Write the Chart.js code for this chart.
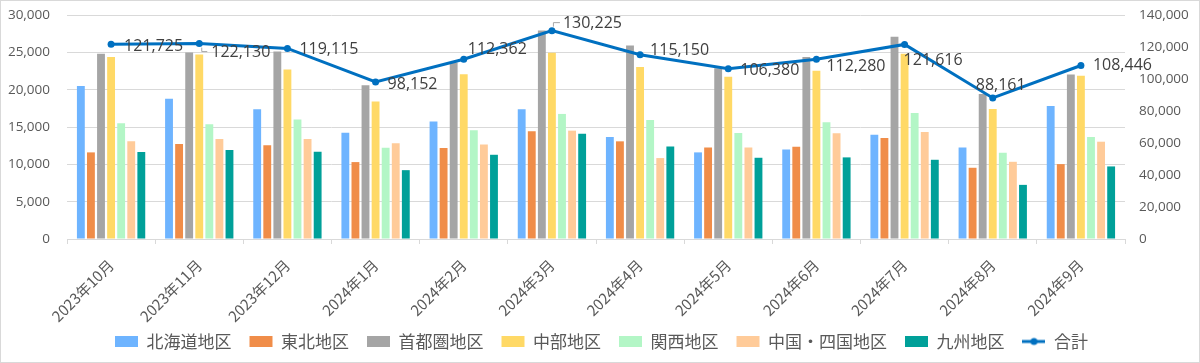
<!DOCTYPE html>
<html lang="ja">
<head>
<meta charset="utf-8">
<title>地区別 月次推移</title>
<script src="https://cdn.jsdelivr.net/npm/chart.js@4.4.1/dist/chart.umd.min.js"></script>
<style>
  html, body { margin: 0; padding: 0; background: #fff; }
  #wrap { width: 1200px; height: 363px; box-sizing: border-box; border: 1px solid #d9d9d9; position: relative; }
</style>
</head>
<body>
<div id="wrap"><canvas id="chart"></canvas></div>
<script>
// categories
const months = ['2023年10月', '2023年11月', '2023年12月', '2024年1月', '2024年2月', '2024年3月',
  '2024年4月', '2024年5月', '2024年6月', '2024年7月', '2024年8月', '2024年9月'];

// regional values (left axis)
const hokkaido = [20500, 18800, 17370, 14240, 15720, 17370, 13660, 11600, 12000, 13970, 12270, 17820];
const tohoku   = [11600, 12720, 12540, 10300, 12180, 14420, 13080, 12270, 12360, 13520, 9540, 10030];
const shutoken = [24810, 24990, 25120, 20600, 23640, 27940, 25930, 22880, 24360, 27090, 19430, 22030];
const chubu    = [24360, 24720, 22700, 18400, 22080, 24940, 23020, 21720, 22520, 24810, 17420, 21850];
const kansai   = [15490, 15360, 15990, 12230, 14550, 16750, 15940, 14200, 15630, 16880, 11550, 13660];
const chushikoku = [13080, 13390, 13390, 12810, 12670, 14510, 10840, 12270, 14150, 14330, 10340, 13030];
const kyushu   = [11640, 11910, 11690, 9220, 11280, 14110, 12400, 10880, 10930, 10610, 7250, 9720];

// total (right axis)
const total = [121725, 122130, 119115, 98152, 112362, 130225, 115150, 106380, 112280, 121616, 88161, 108446];

// tick settings
const leftMax = 30000, leftStep = 5000;
const rightMax = 140000, rightStep = 20000;

const textColor = '#595959';
const gridColor = '#d9d9d9';
const numFont = "'Open Sans', 'Noto Sans', sans-serif";
const jpFont = "'Noto Sans CJK JP', 'Noto Sans', sans-serif";

function fmt(v) { return Number(v).toLocaleString('en-US'); }

// small line+dot swatch for the 合計 legend entry
function lineSwatch() {
  const c = document.createElement('canvas');
  c.width = 23; c.height = 10;
  const g = c.getContext('2d');
  g.strokeStyle = '#0070c0';
  g.lineWidth = 3;
  g.beginPath(); g.moveTo(0, 5); g.lineTo(23, 5); g.stroke();
  g.fillStyle = '#0070c0';
  g.beginPath(); g.arc(11.5, 5, 3.5, 0, Math.PI * 2); g.fill();
  return c;
}
const swatch = lineSwatch();

// data labels for the total line, nudged per point like the original
const labelOffsets = [[13, 2], [12, 9], [12, 1], [12, 2], [4, -10], [11, -7],
  [10, -4], [12, 2], [10, 7], [-1, 16], [-17, -13], [12, 0]];

const totalLabels = {
  id: 'totalLabels',
  afterDatasetsDraw(chart) {
    const idx = chart.data.datasets.findIndex(d => d.type === 'line');
    const meta = chart.getDatasetMeta(idx);
    const ctx = chart.ctx;
    ctx.save();
    // leader lines for the two labels pushed away from their points
    ctx.strokeStyle = '#a6a6a6';
    ctx.lineWidth = 1;
    const p1 = meta.data[1], p5 = meta.data[5];
    ctx.beginPath();
    ctx.moveTo(p1.x + 2.5, p1.y + 4); ctx.lineTo(p1.x + 2.5, p1.y + 8); ctx.lineTo(p1.x + 8, p1.y + 8);
    ctx.moveTo(p5.x + 1.5, p5.y - 4); ctx.lineTo(p5.x + 1.5, p5.y - 8); ctx.lineTo(p5.x + 8, p5.y - 8);
    ctx.stroke();

    ctx.font = '16px ' + numFont;
    ctx.fillStyle = '#404040';
    ctx.textAlign = 'left';
    ctx.textBaseline = 'middle';
    meta.data.forEach((pt, i) => {
      const off = labelOffsets[i] || [10, 0];
      ctx.fillText(fmt(chart.data.datasets[idx].data[i]), pt.x + off[0], pt.y + off[1]);
    });
    ctx.restore();
  }
};

function bar(label, data, color) {
  return { type: 'bar', label: label, data: data, backgroundColor: color, borderWidth: 0,
    yAxisID: 'y', order: 1, categoryPercentage: 0.8, barPercentage: 0.78 };
}

// fixed axis boxes so the plot sits where the original's does
function fixY(width) {
  return function(scale) {
    scale.width = width;
    scale.paddingTop = 0;
    scale.paddingBottom = 0;
  };
}

new Chart(document.getElementById('chart'), {
  data: {
    labels: months,
    datasets: [
      bar('北海道地区', hokkaido, '#6eb4ff'),
      bar('東北地区', tohoku, '#f08d49'),
      bar('首都圏地区', shutoken, '#a5a5a5'),
      bar('中部地区', chubu, '#ffd966'),
      bar('関西地区', kansai, '#b3f6c6'),
      bar('中国・四国地区', chushikoku, '#ffcb99'),
      bar('九州地区', kyushu, '#00a099'),
      {
        type: 'line', label: '合計', data: total, yAxisID: 'y2', order: 0,
        borderColor: '#0070c0', backgroundColor: '#0070c0', borderWidth: 3,
        pointRadius: 3.5, pointBackgroundColor: '#0070c0', pointBorderWidth: 0,
        tension: 0
      }
    ]
  },
  options: {
    responsive: true,
    maintainAspectRatio: false,
    animation: false,
    layout: { padding: { left: 7, right: 4, top: 14, bottom: 2 } },
    plugins: {
      tooltip: { enabled: false },
      legend: {
        position: 'bottom',
        labels: {
          color: textColor,
          font: { family: jpFont, size: 17 },
          usePointStyle: true,
          pointStyleWidth: 23,
          boxHeight: 11,
          padding: 18,
          sort: (a, b) => a.datasetIndex - b.datasetIndex,
          generateLabels(chart) {
            const items = Chart.defaults.plugins.legend.labels.generateLabels(chart);
            items.forEach(it => {
              const ds = chart.data.datasets[it.datasetIndex];
              it.pointStyle = ds.type === 'line' ? swatch : 'rect';
              it.lineWidth = 0;
            });
            return items;
          }
        }
      }
    },
    scales: {
      x: {
        grid: { display: true, offset: true, drawOnChartArea: false, drawTicks: true, tickLength: 5, color: gridColor },
        border: { display: true, color: gridColor },
        ticks: { color: textColor, font: { family: jpFont, size: 15 }, minRotation: 45, maxRotation: 45, padding: 12 },
        afterFit(scale) {
          // keep the rotated labels from pushing the plot inward, let them overflow downward
          scale.paddingLeft = 0;
          scale.paddingRight = 0;
          scale.height = 76;
          scale._computeLabelArea = () => undefined;
        }
      },
      y: {
        position: 'left', min: 0, max: leftMax,
        grid: { color: gridColor, drawTicks: false },
        border: { display: false },
        ticks: { stepSize: leftStep, color: textColor, font: { family: numFont, size: 13.5 }, padding: 17, callback: fmt },
        afterFit: fixY(59)
      },
      y2: {
        position: 'right', min: 0, max: rightMax,
        grid: { drawOnChartArea: false, drawTicks: false },
        border: { display: false },
        ticks: { stepSize: rightStep, color: textColor, font: { family: numFont, size: 13.5 }, padding: 14, callback: fmt },
        afterFit: fixY(70)
      }
    }
  },
  plugins: [totalLabels]
});
</script>
</body>
</html>
